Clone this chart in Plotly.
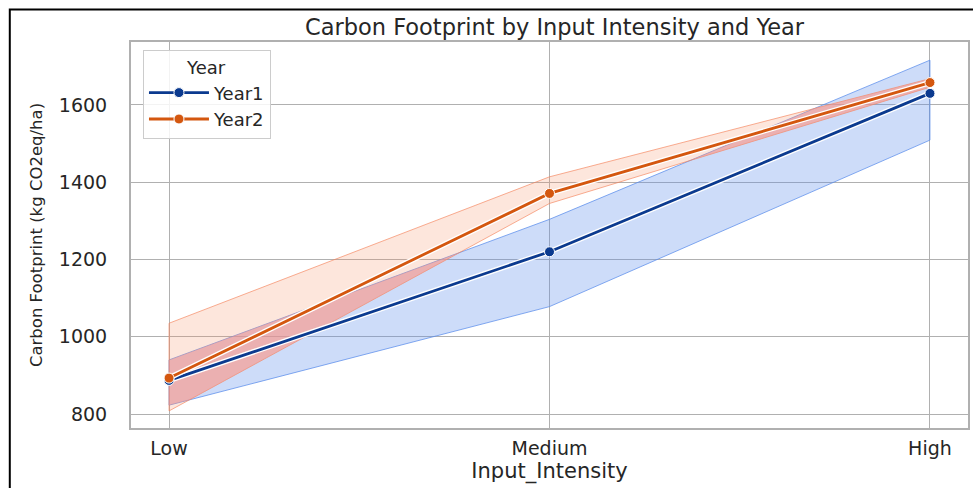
import numpy as np
import plotly.graph_objects as go

# Input-intensity levels and carbon footprint (kg CO2eq/ha): mean with 95% CI
categories = ["Low", "Medium", "High"]
years = ["Year1", "Year2"]

year1_mean = [887, 1220, 1630]
year1_lo = [823, 1078, 1509]
year1_hi = [940, 1304, 1716]

year2_mean = [893, 1371, 1658]
year2_lo = [808, 1345, 1646]
year2_hi = [1035, 1414, 1668]

y_ticks = [800, 1000, 1200, 1400, 1600]

line_colors = {"Year1": "#0b3a8f", "Year2": "#d4570f"}
band_fill = {"Year1": "rgba(90,140,235,0.30)", "Year2": "rgba(248,140,95,0.22)"}
band_edge = {"Year1": "rgba(90,140,235,0.75)", "Year2": "rgba(245,130,90,0.65)"}
overlap_fill = "rgba(255,150,140,0.50)"

FONT = "DejaVu Sans"
TEXT = "#262626"
GRID = "#b0b0b0"

xpos = list(range(len(categories)))
series = {
    "Year1": (year1_mean, year1_lo, year1_hi),
    "Year2": (year2_mean, year2_lo, year2_hi),
}

fig = go.Figure()

# confidence bands (closed polygons: upper edge forward, lower edge back)
for yr in years:
    _, lo, hi = series[yr]
    fig.add_trace(go.Scatter(
        x=xpos + xpos[::-1] + [xpos[0]],
        y=list(hi) + list(lo)[::-1] + [hi[0]],
        mode="lines", fill="toself",
        fillcolor=band_fill[yr],
        line=dict(color=band_edge[yr], width=1),
        hoverinfo="skip", showlegend=False,
    ))


# region where both bands overlap, derived from the band edges
def overlap_polygons(lo_a, hi_a, lo_b, hi_b):
    edges = [np.asarray(v, float) for v in (lo_a, hi_a, lo_b, hi_b)]
    ts = set(float(i) for i in xpos)
    for i in range(len(xpos) - 1):
        for a in range(4):
            for b in range(a + 1, 4):
                d0 = edges[a][i] - edges[b][i]
                d1 = edges[a][i + 1] - edges[b][i + 1]
                if d0 * d1 < 0:
                    ts.add(i + d0 / (d0 - d1))
    ts = np.array(sorted(ts))
    ev = [np.interp(ts, xpos, e) for e in edges]
    lower = np.maximum(ev[0], ev[2])
    upper = np.minimum(ev[1], ev[3])
    xs_out, ys_out = [], []
    run = []

    def close_run():
        xs_out.extend([ts[j] for j in run] + [ts[j] for j in run[::-1]] + [None])
        ys_out.extend([upper[j] for j in run] + [lower[j] for j in run[::-1]] + [None])

    for k in range(len(ts) - 1):
        tm = 0.5 * (ts[k] + ts[k + 1])
        em = [np.interp(tm, xpos, e) for e in edges]
        if min(em[1], em[3]) > max(em[0], em[2]):
            if not run:
                run.append(k)
            run.append(k + 1)
        elif run:
            close_run()
            run = []
    if run:
        close_run()
    return xs_out, ys_out


ox, oy = overlap_polygons(year1_lo, year1_hi, year2_lo, year2_hi)
fig.add_trace(go.Scatter(
    x=ox, y=oy, mode="lines", fill="toself", fillcolor=overlap_fill,
    line=dict(width=0), hoverinfo="skip", showlegend=False,
))

# mean lines with a thin white casing and circular markers
for yr in years:
    mean = series[yr][0]
    fig.add_trace(go.Scatter(
        x=xpos, y=mean, mode="lines",
        line=dict(color="white", width=5.5),
        hoverinfo="skip", showlegend=False,
    ))
    fig.add_trace(go.Scatter(
        x=xpos, y=mean, mode="lines+markers", name=yr,
        line=dict(color=line_colors[yr], width=2.8),
        marker=dict(size=10, color=line_colors[yr], line=dict(color="white", width=1)),
    ))

W, H = 973, 488
ml, mr, mt, mb = 131, 3, 42, 60
pw, ph = W - ml - mr, H - mt - mb

# outer frame along the top and left edges of the image
fx = (9.5 - ml) / pw
fy = 1 + (mt - 9.5) / ph
fig.add_shape(
    type="path", xref="paper", yref="paper",
    path=f"M {fx} {-mb / ph - 0.05} L {fx} {fy} L {1 + (mr + 5) / pw} {fy}",
    line=dict(color="black", width=2),
)

fig.update_layout(
    width=W, height=H,
    margin=dict(l=ml, r=mr, t=mt, b=mb),
    paper_bgcolor="white", plot_bgcolor="white",
    font=dict(family=FONT, color=TEXT),
    title=dict(
        text="Carbon Footprint by Input Intensity and Year",
        x=(ml + pw / 2 + 4) / W, xanchor="center",
        y=1 - 27 / H, yanchor="middle",
        font=dict(size=22.5, color=TEXT),
    ),
    xaxis=dict(
        range=[-0.1, 2.1], tickvals=xpos, ticktext=categories,
        showgrid=True, gridcolor=GRID, gridwidth=1,
        showline=True, mirror=True, linecolor=GRID, linewidth=2,
        zeroline=False, ticks="", ticklabelstandoff=2,
        tickfont=dict(size=19, color=TEXT),
        title=dict(text="Input_Intensity", font=dict(size=21, color=TEXT), standoff=0),
    ),
    yaxis=dict(
        range=[763.8, 1763], tickvals=y_ticks,
        showgrid=True, gridcolor=GRID, gridwidth=1,
        showline=True, mirror=True, linecolor=GRID, linewidth=2,
        zeroline=False, ticks="", ticklabelstandoff=18,
        tickfont=dict(size=19, color=TEXT),
        title=dict(text="Carbon Footprint (kg CO2eq/ha)", font=dict(size=16.5, color=TEXT), standoff=12),
    ),
    legend=dict(
        x=(143 - ml) / pw, y=1 - (50 - mt) / ph, xanchor="left", yanchor="top",
        bgcolor="rgba(255,255,255,0.85)", bordercolor="#cccccc", borderwidth=1,
        font=dict(size=18, color=TEXT), itemwidth=60,
        title=dict(text="Year", side="top center", font=dict(size=18, color=TEXT)),
        tracegroupgap=0,
    ),
    showlegend=True,
)

fig.write_html("out.html")
